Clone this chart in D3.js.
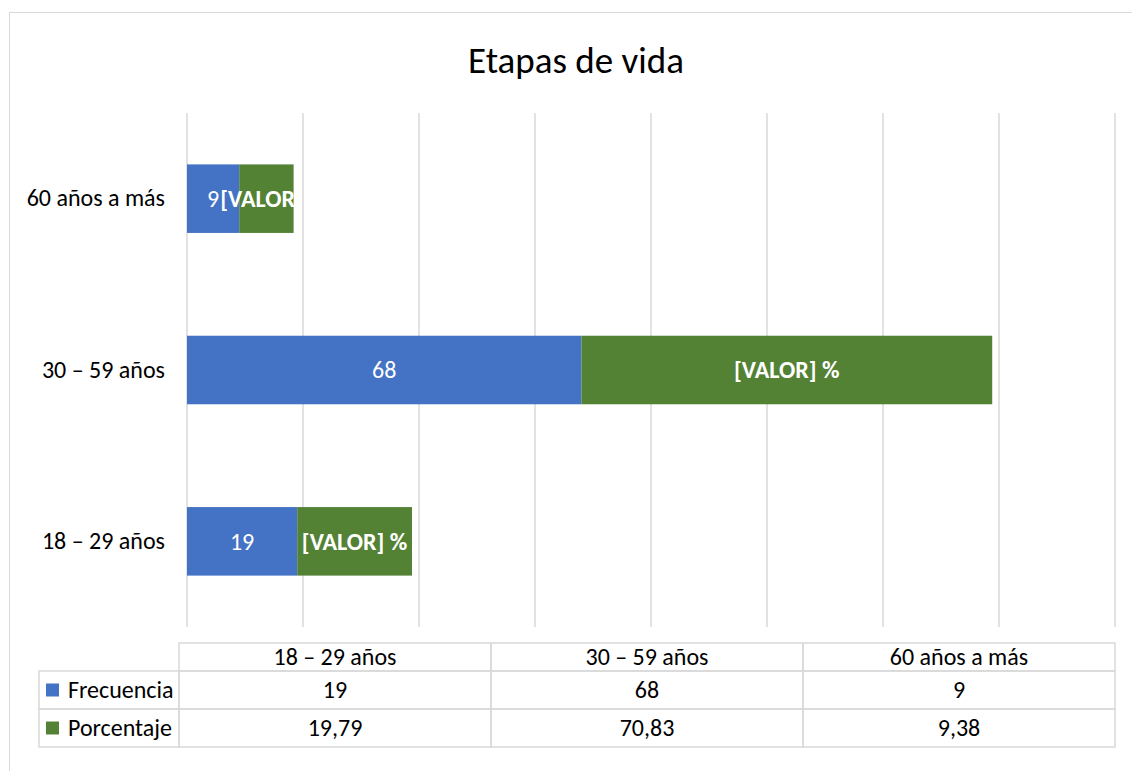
<!DOCTYPE html>
<html>
<head>
<meta charset="utf-8">
<script src="https://cdn.jsdelivr.net/npm/d3@7"></script>
<style>
  body { margin: 0; background: #fff; }
  svg { display: block; font-family: Calibri, Carlito, "Noto Sans", sans-serif; }
</style>
</head>
<body>
<script>
// chart data
var categories = ["18 – 29 años", "30 – 59 años", "60 años a más"];
var seriesNames = ["Frecuencia", "Porcentaje"];
var frecuencia = [19, 68, 9];
var porcentaje = [19.79, 70.83, 9.38];
var xTicks = [0, 20, 40, 60, 80, 100, 120, 140, 160];
var pctLabel = "[VALOR] %";
var colors = ["#4472C4", "#548235"];

var width = 1132, height = 771;
var plot = {left: 187, right: 1115, top: 113, bottom: 627};

var svg = d3.select("body").append("svg")
  .attr("width", width)
  .attr("height", height);

// outer frame (runs off the picture at right and bottom)
svg.append("rect")
  .attr("x", 9.5).attr("y", 12.5)
  .attr("width", 1140).attr("height", 800)
  .attr("fill", "none")
  .attr("stroke", "#D9D9D9");

// title
svg.append("text")
  .attr("x", 576).attr("y", 60)
  .attr("dy", "0.35em")
  .attr("text-anchor", "middle")
  .style("font-size", "37px")
  .attr("fill", "#000")
  .text("Etapas de vida");

var x = d3.scaleLinear()
  .domain([0, 160])
  .range([plot.left, plot.right]);

var y = d3.scaleBand()
  .domain(categories.slice().reverse())
  .range([plot.top, plot.bottom])
  .paddingInner(0.6)
  .paddingOuter(0.3);

// gridlines
svg.append("g").selectAll("line")
  .data(xTicks)
  .enter().append("line")
  .attr("x1", function(d) { return x(d); })
  .attr("x2", function(d) { return x(d); })
  .attr("y1", plot.top)
  .attr("y2", plot.bottom)
  .attr("stroke", "#D9D9D9")
  .attr("stroke-width", 1.5);

// category labels
var yAxis = d3.axisLeft(y).tickSize(0).tickPadding(22);
var yg = svg.append("g")
  .attr("transform", "translate(" + plot.left + ",0)")
  .call(yAxis);
yg.select(".domain").remove();
yg.selectAll("text")
  .style("font-size", "24px")
  .style("font-family", "Calibri, Carlito, 'Noto Sans', sans-serif")
  .attr("fill", "#000");

// stacked bars
var rows = categories.map(function(c, i) {
  return {cat: c, Frecuencia: frecuencia[i], Porcentaje: porcentaje[i]};
});
var stack = d3.stack().keys(seriesNames)(rows);

var layers = svg.append("g").selectAll("g")
  .data(stack)
  .enter().append("g")
  .attr("fill", function(d, i) { return colors[i]; });

layers.selectAll("rect")
  .data(function(d) { return d; })
  .enter().append("rect")
  .attr("x", function(d) { return x(d[0]); })
  .attr("y", function(d) { return y(d.data.cat); })
  .attr("width", function(d) { return x(d[1]) - x(d[0]); })
  .attr("height", y.bandwidth());

// bar labels
var labelNodes = [];
layers.each(function(layer, li) {
  labelNodes[li] = d3.select(this).selectAll("text")
    .data(layer)
    .enter().append("text")
    .attr("x", function(d) { return (x(d[0]) + x(d[1])) / 2; })
    .attr("y", function(d) { return y(d.data.cat) + y.bandwidth() / 2; })
    .attr("dy", "0.35em")
    .attr("text-anchor", "middle")
    .attr("fill", "#fff")
    .style("font-size", "24px")
    .style("font-weight", li === 0 ? "normal" : "bold")
    .text(function(d) { return li === 0 ? d.data.Frecuencia : pctLabel; })
    .nodes();
});

// nudge a percentage label right when it runs into the frequency label
labelNodes[1].forEach(function(node, i) {
  var prev = labelNodes[0][i].getBBox();
  var box = node.getBBox();
  var gap = prev.x + prev.width + 1 - box.x;
  if (gap > 0) {
    d3.select(node).attr("x", +d3.select(node).attr("x") + gap);
  }
});

// data table
var fmt = d3.formatLocale({decimal: ",", thousands: ".", grouping: [3], currency: ["", ""]});
var fmt2 = fmt.format(".2f");
var tableValues = [frecuencia.map(String), porcentaje.map(function(d) { return fmt2(d); })];

var col = d3.scaleBand().domain(categories).range([179, 1115]);
var tTop = 643, headH = 28, rowH = 38, legLeft = 39;
var grid = "#D9D9D9";
var t = svg.append("g").style("font-size", "24px");

// header cells
t.selectAll(".head")
  .data(categories)
  .enter().append("rect")
  .attr("class", "head")
  .attr("x", function(d) { return col(d); })
  .attr("y", tTop)
  .attr("width", col.bandwidth())
  .attr("height", headH)
  .attr("fill", "none")
  .attr("stroke", grid)
  .attr("stroke-width", 1.5);

t.selectAll(".headText")
  .data(categories)
  .enter().append("text")
  .attr("x", function(d) { return col(d) + col.bandwidth() / 2; })
  .attr("y", tTop + headH / 2)
  .attr("dy", "0.35em")
  .attr("text-anchor", "middle")
  .text(function(d) { return d; });

seriesNames.forEach(function(name, si) {
  var ry = tTop + headH + si * rowH;
  // legend cell
  t.append("rect")
    .attr("x", legLeft).attr("y", ry)
    .attr("width", 179 - legLeft).attr("height", rowH)
    .attr("fill", "none").attr("stroke", grid).attr("stroke-width", 1.5);
  t.append("rect")
    .attr("x", 46).attr("y", ry + rowH / 2 - 6.5)
    .attr("width", 13).attr("height", 13)
    .attr("fill", colors[si]);
  t.append("text")
    .attr("x", 68).attr("y", ry + rowH / 2)
    .attr("dy", "0.35em")
    .text(name);

  t.selectAll(".cell" + si)
    .data(categories)
    .enter().append("rect")
    .attr("x", function(d) { return col(d); })
    .attr("y", ry)
    .attr("width", col.bandwidth())
    .attr("height", rowH)
    .attr("fill", "none")
    .attr("stroke", grid)
    .attr("stroke-width", 1.5);

  t.selectAll(".val" + si)
    .data(tableValues[si])
    .enter().append("text")
    .attr("x", function(d, i) { return col(categories[i]) + col.bandwidth() / 2; })
    .attr("y", ry + rowH / 2)
    .attr("dy", "0.35em")
    .attr("text-anchor", "middle")
    .text(function(d) { return d; });
});
</script>
</body>
</html>
